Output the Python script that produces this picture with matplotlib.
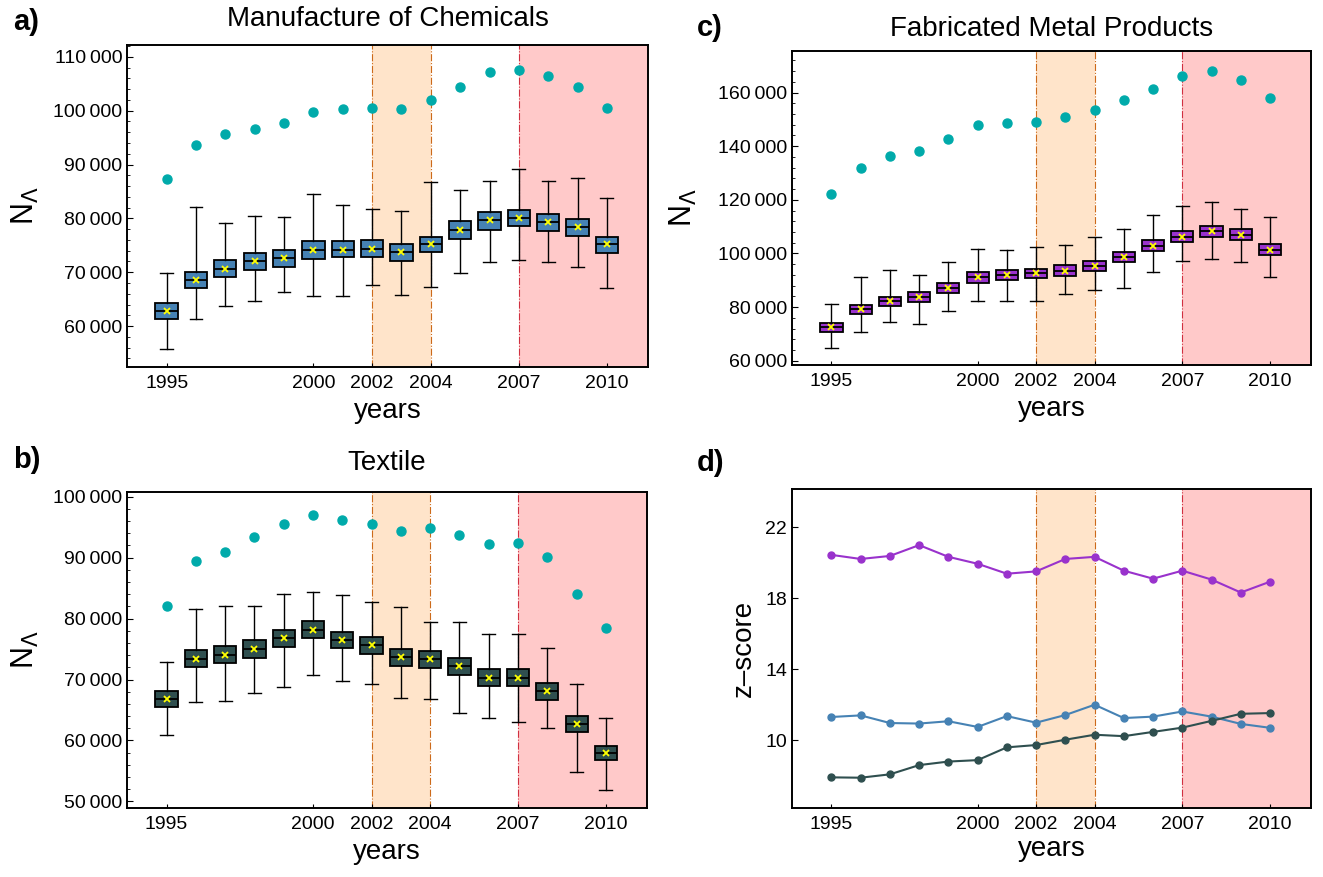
import matplotlib
matplotlib.use('Agg')
import matplotlib.pyplot as plt
from matplotlib.ticker import FixedLocator, MultipleLocator, FuncFormatter

plt.rcParams['font.family'] = ['Liberation Sans', 'DejaVu Sans']

years = list(range(1995, 2011))
year_ticks = [1995, 2000, 2002, 2004, 2007, 2010]

# a) Manufacture of Chemicals
chem_dots = [87400, 93650, 95700, 96550, 97700, 99750, 100300, 100500,
             100300, 101950, 104350, 107100, 107500, 106400, 104350, 100500]
chem_lo = [55800, 61400, 63700, 64750, 66400, 65600, 65550, 67550,
           65700, 67200, 69950, 71900, 72200, 71950, 71050, 67100]
chem_q1 = [61250, 67100, 69050, 70500, 71050, 72500, 72750, 72850,
           72100, 73750, 76150, 77850, 78500, 77650, 76750, 73550]
chem_med = [62850, 68600, 70650, 72050, 72600, 74200, 74200, 74400,
            73750, 75250, 77800, 79650, 80100, 79250, 78350, 75200]
chem_q3 = [64250, 70100, 72250, 73550, 74200, 75850, 75800, 76000,
           75250, 76600, 79450, 81200, 81650, 80850, 79850, 76600]
chem_hi = [69950, 82150, 79200, 80500, 80300, 84550, 82500, 81800,
           81350, 86850, 85200, 86950, 89250, 86950, 87500, 83800]

# b) Textile
tex_dots = [82000, 89450, 90900, 93350, 95550, 96950, 96150, 95550,
            94400, 94850, 93750, 92300, 92450, 90100, 84050, 78400]
tex_lo = [60900, 66300, 66500, 67850, 68750, 70800, 69700, 69200,
          66900, 66800, 64550, 63700, 63000, 62050, 54750, 51950]
tex_q1 = [65550, 72000, 72650, 73550, 75300, 76750, 75100, 74200,
          72200, 71950, 70700, 68900, 68900, 66700, 61350, 56800]
tex_med = [66850, 73400, 74100, 75050, 76850, 78200, 76500, 75700,
           73650, 73350, 72150, 70300, 70300, 68100, 62650, 58000]
tex_q3 = [68150, 74800, 75550, 76500, 78150, 79600, 77800, 77050,
          74950, 74700, 73500, 71750, 71650, 69500, 64000, 59150]
tex_hi = [72850, 81650, 82100, 82050, 84050, 84300, 83900, 82700,
          81900, 79450, 79450, 77400, 77400, 75200, 69300, 63750]

# c) Fabricated Metal Products
met_dots = [122100, 131800, 136250, 138350, 142600, 147850, 148550, 148950,
            150800, 153400, 157150, 161250, 166100, 168000, 164600, 157900]
met_lo = [64650, 70700, 74550, 73700, 78650, 82250, 82250, 82400,
          84900, 86500, 87100, 93100, 97200, 97950, 96800, 91350]
met_q1 = [70700, 77300, 80400, 81900, 85250, 89000, 90100, 90850,
          91600, 93450, 96700, 100800, 104300, 106250, 104900, 99350]
met_med = [72450, 79200, 82150, 83900, 87100, 91100, 92100, 92600,
           93600, 95350, 98700, 102900, 106250, 108400, 107000, 101400]
met_q3 = [74200, 80900, 83900, 85650, 89000, 93000, 93950, 94350,
          95600, 97300, 100550, 104900, 108400, 110350, 109150, 103450]
met_hi = [81250, 91350, 93950, 92100, 96950, 101700, 101400, 102550,
          103050, 106250, 109150, 114250, 117850, 119300, 116700, 113500]

# d) z-scores
z_metal = [20.43, 20.2, 20.37, 20.98, 20.32, 19.93, 19.37, 19.5,
           20.2, 20.32, 19.54, 19.09, 19.54, 19.04, 18.31, 18.92]
z_chem = [11.3, 11.39, 10.96, 10.93, 11.06, 10.74, 11.35, 10.98,
          11.41, 11.99, 11.24, 11.32, 11.61, 11.32, 10.91, 10.69]
z_tex = [7.9, 7.88, 8.07, 8.59, 8.79, 8.87, 9.59, 9.72,
         10.02, 10.3, 10.22, 10.46, 10.7, 11.08, 11.48, 11.52]

c_chem = '#4682B4'
c_tex = '#2F4F4F'
c_met = '#9932CC'
c_dot = '#00AAAA'

fig = plt.figure(figsize=(13.23, 8.77), dpi=100)
ax_a = fig.add_axes([0.0960, 0.5815, 0.3938, 0.3672])
ax_b = fig.add_axes([0.0960, 0.0790, 0.3930, 0.3600])
ax_c = fig.add_axes([0.5986, 0.5838, 0.3923, 0.3580])
ax_d = fig.add_axes([0.5986, 0.0790, 0.3923, 0.3630])


def thousands(v, pos):
    return f"{int(round(v)):,}".replace(',', '\u2009')


def periods(ax):
    ax.axvspan(2002, 2004, color='#FFE4CA', zorder=0, lw=0)
    ax.axvspan(2007, 2012, color='#FFC9C9', zorder=0, lw=0)
    ax.axvline(2002, color='#CC6A1A', ls='-.', lw=0.8, zorder=1)
    ax.axvline(2004, color='#CC6A1A', ls='-.', lw=0.8, zorder=1)
    ax.axvline(2007, color='#D03040', ls='-.', lw=0.8, zorder=1)
    ax.set_xlim(1993.65, 2011.4)
    ax.xaxis.set_major_locator(FixedLocator(year_ticks))
    ax.tick_params(axis='x', labelsize=14, length=3, direction='in', pad=6)
    ax.tick_params(axis='y', labelsize=14, length=4, direction='in')
    ax.tick_params(axis='y', which='minor', length=2, direction='in')
    for s in ax.spines.values():
        s.set_linewidth(1.4)
        s.set_zorder(5)


def boxes(ax, lo, q1, med, q3, hi, dots, color):
    stats = []
    for i in range(len(years)):
        stats.append({'whislo': lo[i], 'q1': q1[i], 'med': med[i], 'q3': q3[i],
                      'whishi': hi[i], 'mean': med[i], 'fliers': []})
    ax.bxp(stats, positions=years, widths=0.76, patch_artist=True, showmeans=True,
           manage_ticks=False,
           boxprops=dict(facecolor=color, edgecolor='black', lw=1.3),
           medianprops=dict(color='black', lw=1.3),
           whiskerprops=dict(color='black', lw=1.0),
           capprops=dict(color='black', lw=1.0),
           capwidths=0.44,
           meanprops=dict(marker='x', markeredgecolor='#FFFF00', markersize=5, mew=1.3),
           zorder=3)
    ax.plot(years, dots, 'o', color=c_dot, ms=6.5, zorder=4)
    ax.yaxis.set_major_formatter(FuncFormatter(thousands))
    ax.set_xlabel('years', fontsize=20, labelpad=4)
    ax.set_ylabel(r'N$_{\Lambda}$', fontsize=22)


periods(ax_a)
boxes(ax_a, chem_lo, chem_q1, chem_med, chem_q3, chem_hi, chem_dots, c_chem)
ax_a.set_ylim(52400, 112200)
ax_a.yaxis.set_major_locator(MultipleLocator(10000))
ax_a.yaxis.set_minor_locator(MultipleLocator(2000))
ax_a.set_title('Manufacture of Chemicals', fontsize=20, pad=14)
ax_a.yaxis.set_label_coords(-0.165, 0.5)

periods(ax_b)
boxes(ax_b, tex_lo, tex_q1, tex_med, tex_q3, tex_hi, tex_dots, c_tex)
ax_b.set_ylim(48970, 100770)
ax_b.yaxis.set_major_locator(MultipleLocator(10000))
ax_b.yaxis.set_minor_locator(MultipleLocator(2000))
ax_b.set_title('Textile', fontsize=20, pad=16)
ax_b.yaxis.set_label_coords(-0.165, 0.5)

periods(ax_c)
boxes(ax_c, met_lo, met_q1, met_med, met_q3, met_hi, met_dots, c_met)
ax_c.set_ylim(58400, 175500)
ax_c.yaxis.set_major_locator(MultipleLocator(20000))
ax_c.yaxis.set_minor_locator(MultipleLocator(4000))
ax_c.set_title('Fabricated Metal Products', fontsize=20, pad=11)
ax_c.yaxis.set_label_coords(-0.18, 0.5)

periods(ax_d)
ax_d.plot(years, z_metal, '-o', color=c_met, ms=5, lw=1.5, zorder=3)
ax_d.plot(years, z_chem, '-o', color=c_chem, ms=5, lw=1.5, zorder=3)
ax_d.plot(years, z_tex, '-o', color=c_tex, ms=5, lw=1.5, zorder=3)
ax_d.set_ylim(6.19, 24.12)
ax_d.yaxis.set_major_locator(FixedLocator([10, 14, 18, 22]))
ax_d.set_xlabel('years', fontsize=20, labelpad=2)
ax_d.set_ylabel('z\u2013score', fontsize=20)
ax_d.yaxis.set_label_coords(-0.068, 0.5)

fig.text(0.010, 0.975, 'a)', fontsize=21, fontweight='bold', va='center')
fig.text(0.010, 0.475, 'b)', fontsize=21, fontweight='bold', va='center')
fig.text(0.527, 0.968, 'c)', fontsize=21, fontweight='bold', va='center')
fig.text(0.527, 0.472, 'd)', fontsize=21, fontweight='bold', va='center')

fig.savefig('out.png', dpi=100)
